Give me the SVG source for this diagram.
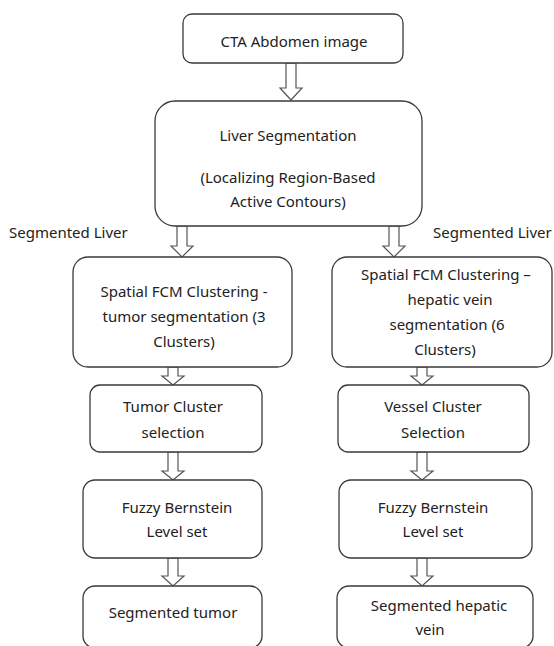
<svg xmlns="http://www.w3.org/2000/svg" width="554" height="646" viewBox="0 0 554 646">
<style>
.box{fill:#fff;stroke:#3a3a3a;stroke-width:1.3}
.arr{fill:#fff;stroke:#555;stroke-width:1.2;stroke-linejoin:miter}
text{font-family:"Noto Sans","Open Sans","Liberation Sans",sans-serif;font-size:15px;fill:#222;text-anchor:middle}
.lbl{text-anchor:start}
</style>
<rect width="554" height="646" fill="#fff"/>
<g id="connectors">
<polygon class="arr" points="286,63 296,63 296,88 302,88 291,100 280,88 286,88"/>
<polygon class="arr" points="177,226 187,226 187,246 193,246 182,257 171,246 177,246"/>
<polygon class="arr" points="389,226 399,226 399,246 405,246 394,257 383,246 389,246"/>
<polygon class="arr" points="168,367 178,367 178,376 184,376 173,385 162,376 168,376"/>
<polygon class="arr" points="168,452 178,452 178,471 184,471 173,480 162,471 168,471"/>
<polygon class="arr" points="168,558 178,558 178,576 184,576 173,586 162,576 168,576"/>
<polygon class="arr" points="417,367 427,367 427,376 433,376 422,385 411,376 417,376"/>
<polygon class="arr" points="417,452 427,452 427,471 433,471 422,480 411,471 417,471"/>
<polygon class="arr" points="417,558 427,558 427,576 433,576 422,586 411,576 417,576"/>
</g>
<g id="cta"><rect class="box" x="183" y="14" width="220" height="49" rx="9"/><text x="294" y="47">CTA Abdomen image</text></g>
<g id="liver"><rect class="box" x="155" y="101" width="267" height="125" rx="20"/>
<text x="288" y="141">Liver Segmentation</text>
<text x="288" y="183">(Localizing Region-Based</text>
<text x="288" y="207">Active Contours)</text></g>
<g id="lbl-left"><text class="lbl" x="9" y="238">Segmented Liver</text></g>
<g id="lbl-right"><text class="lbl" x="433" y="238">Segmented Liver</text></g>
<g id="fcm-tumor"><rect class="box" x="73" y="257" width="219" height="110" rx="15"/>
<text x="184" y="297">Spatial FCM Clustering  -</text>
<text x="184" y="322">tumor segmentation (3</text>
<text x="184" y="347">Clusters)</text></g>
<g id="fcm-vein"><rect class="box" x="332" y="257" width="220" height="110" rx="15"/>
<text x="446" y="280">Spatial FCM Clustering –</text>
<text x="450" y="305">hepatic vein</text>
<text x="447" y="330">segmentation (6</text>
<text x="445" y="355">Clusters)</text></g>
<g id="tumor-sel"><rect class="box" x="90" y="385" width="172" height="67" rx="10"/>
<text x="173" y="412">Tumor Cluster</text>
<text x="173" y="438">selection</text></g>
<g id="vessel-sel"><rect class="box" x="338" y="385" width="191" height="67" rx="10"/>
<text x="433" y="412">Vessel Cluster</text>
<text x="433" y="438">Selection</text></g>
<g id="fb-left"><rect class="box" x="83" y="480" width="179" height="78" rx="12"/>
<text x="177" y="513">Fuzzy Bernstein</text>
<text x="177" y="537">Level  set</text></g>
<g id="fb-right"><rect class="box" x="339" y="480" width="193" height="78" rx="12"/>
<text x="433" y="513">Fuzzy Bernstein</text>
<text x="433" y="537">Level  set</text></g>
<g id="seg-tumor"><rect class="box" x="83" y="586" width="179" height="62" rx="12"/>
<text x="173" y="618">Segmented tumor</text></g>
<g id="seg-vein"><rect class="box" x="337" y="586" width="196" height="62" rx="12"/>
<text x="439" y="611">Segmented hepatic</text>
<text x="430" y="635">vein</text></g>
</svg>
